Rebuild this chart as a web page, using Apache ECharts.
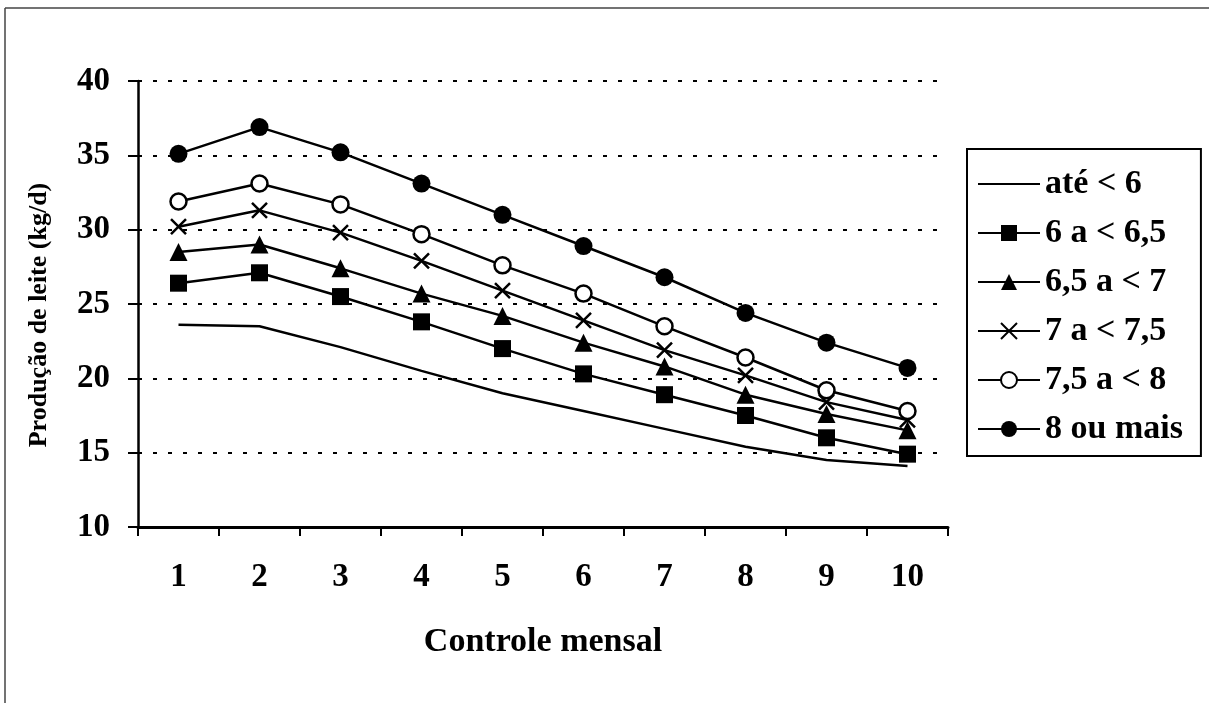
<!DOCTYPE html>
<html><head><meta charset="utf-8">
<script src="https://cdn.jsdelivr.net/npm/echarts@6/dist/echarts.min.js"></script>
<style>html,body{margin:0;padding:0;background:#fff}#c{width:1209px;height:703px}</style>
</head><body><div id="c"></div>
<script>
const categories = ['1','2','3','4','5','6','7','8','9','10'];
const seriesNames = ['até < 6','6 a < 6,5','6,5 a < 7','7 a < 7,5','7,5 a < 8','8 ou mais'];
const ate6 = [23.6,23.5,22.1,20.5,19.0,17.8,16.6,15.4,14.5,14.1];
const s6a65 = [26.4,27.1,25.5,23.8,22.0,20.3,18.9,17.5,16.0,14.9];
const s65a7 = [28.5,29.0,27.4,25.7,24.2,22.4,20.8,18.9,17.6,16.5];
const s7a75 = [30.2,31.3,29.8,27.9,25.9,23.9,21.9,20.2,18.4,17.2];
const s75a8 = [31.9,33.1,31.7,29.7,27.6,25.7,23.5,21.4,19.2,17.8];
const s8mais = [35.1,36.9,35.2,33.1,31.0,28.9,26.8,24.4,22.4,20.7];
const yTicks = [10,15,20,25,30,35,40];

const font = 'Liberation Serif';
const crossPath = 'path://M0,0L10,10M10,0L0,10';
function mk(name, data, symbol, size, itemStyle) {
  return {
    name, type: 'line', data, symbol, symbolSize: size,
    lineStyle: { color: '#000', width: 2.5, type: 'solid' },
    itemStyle: itemStyle || { color: '#000', borderWidth: 0 },
    emphasis: { disabled: true }, animation: false, z: 3
  };
}
const chart = echarts.init(document.getElementById('c'), null, { renderer: 'canvas' });
chart.setOption({
  backgroundColor: '#fff',
  animation: false,
  grid: { left: 138, right: 261, top: 81, bottom: 176 },
  xAxis: {
    type: 'category', data: categories, boundaryGap: true,
    axisLine: { lineStyle: { color: '#000', width: 3 } },
    axisTick: { show: true, length: 9, lineStyle: { color: '#000', width: 2 } },
    axisLabel: { color: '#000', fontFamily: font, fontWeight: 'bold', fontSize: 33, margin: 34 },
    name: 'Controle mensal', nameLocation: 'middle', nameGap: 98,
    nameTextStyle: { color: '#000', fontFamily: font, fontWeight: 'bold', fontSize: 34 },
    z: 5
  },
  yAxis: {
    type: 'value', min: yTicks[0], max: yTicks[yTicks.length-1], interval: 5,
    axisLine: { show: true, lineStyle: { color: '#000', width: 2.5 } },
    axisTick: { show: true, length: 10, lineStyle: { color: '#000', width: 2 } },
    axisLabel: { color: '#000', fontFamily: font, fontWeight: 'bold', fontSize: 33, margin: 28 },
    splitLine: { show: true, lineStyle: { color: '#000', width: 2, type: [4, 11] } },
    name: 'Produção de leite (kg/d)', nameLocation: 'middle', nameGap: 86, nameRotate: 90,
    nameTextStyle: { color: '#000', fontFamily: font, fontWeight: 'bold', fontSize: 26, padding: [0, 22, 0, 0] },
    z: 1
  },
  legend: {
    orient: 'vertical', left: 967, top: 149,
    itemWidth: 62, itemHeight: 20, itemGap: 15,
    borderColor: '#000', borderWidth: 2, padding: [18, 18, 10, 10],
    textStyle: { color: '#000', fontFamily: font, fontWeight: 'bold', fontSize: 34 },
    data: [
      { name: seriesNames[0], itemStyle: { opacity: 0 } },
      seriesNames[1], seriesNames[2], seriesNames[3], seriesNames[4], seriesNames[5]
    ]
  },
  graphic: [
    { type: 'line', shape: { x1: 5, y1: 8, x2: 1209, y2: 8 }, style: { stroke: '#444', lineWidth: 1.5 } },
    { type: 'line', shape: { x1: 5, y1: 8, x2: 5, y2: 703 }, style: { stroke: '#444', lineWidth: 1.5 } }
  ],
  series: [
    mk(seriesNames[0], ate6, 'none', 0),
    mk(seriesNames[1], s6a65, 'rect', 17),
    mk(seriesNames[2], s65a7, 'triangle', 18),
    mk(seriesNames[3], s7a75, crossPath, 15, { color: 'none', borderColor: '#000', borderWidth: 2.5 }),
    mk(seriesNames[4], s75a8, 'circle', 16, { color: '#fff', borderColor: '#000', borderWidth: 2.5 }),
    mk(seriesNames[5], s8mais, 'circle', 18)
  ]
});
</script></body></html>
